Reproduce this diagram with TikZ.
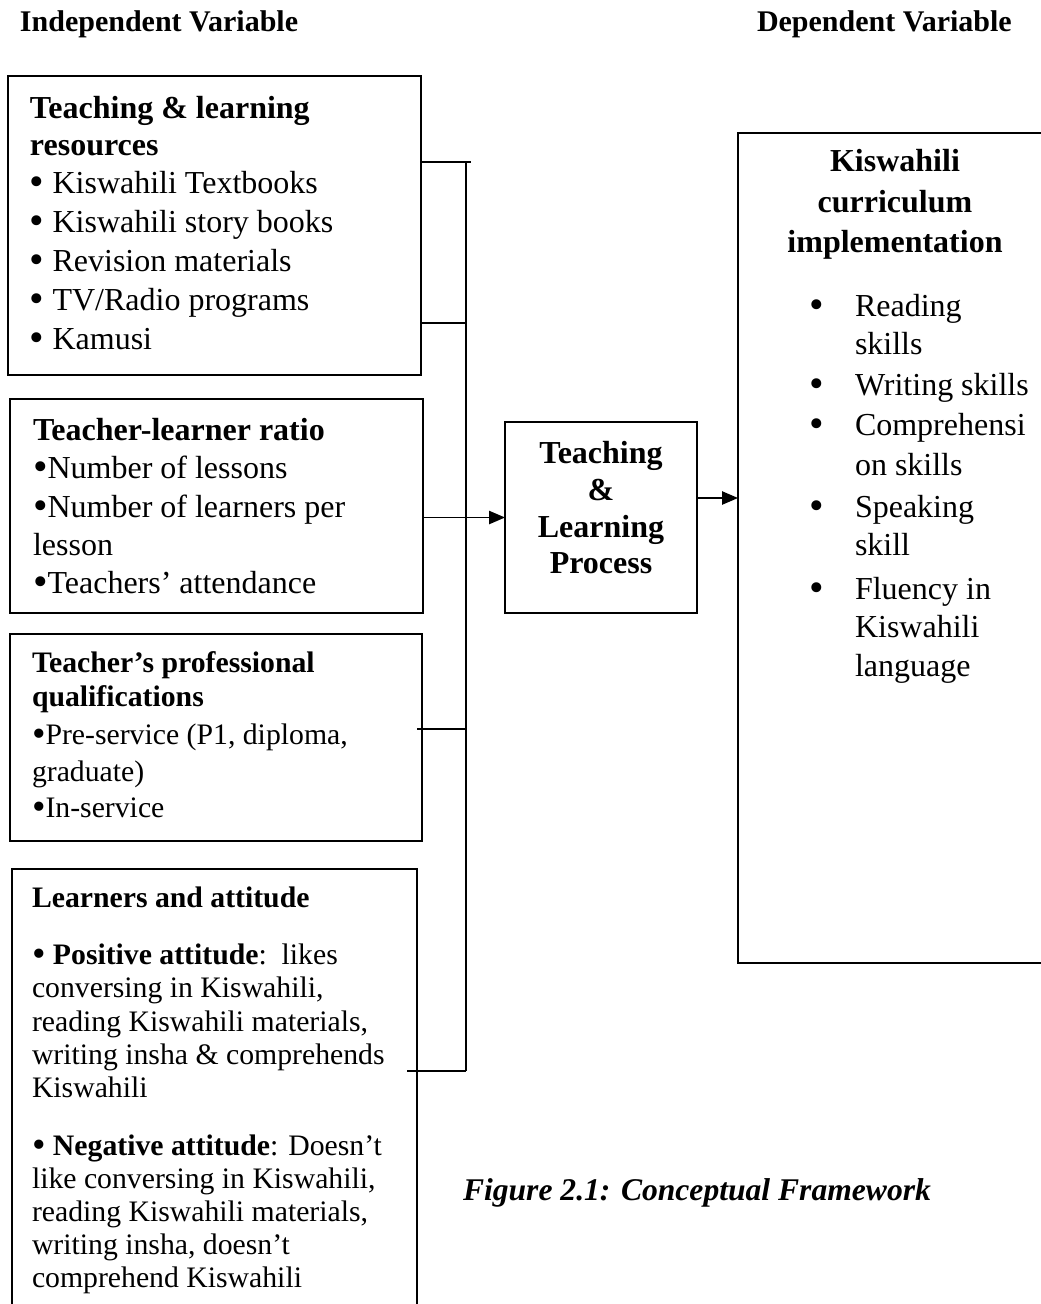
\documentclass[tikz,border=0pt]{standalone}
\usepackage{fontspec}
\setmainfont{Liberation Serif}
\usetikzlibrary{arrows.meta}
\newcommand\fA{\fontsize{24}{28}\selectfont}
\newcommand\fB{\fontsize{22.3}{26}\selectfont}
\newcommand\fH{\fontsize{22.5}{26}\selectfont\bfseries}
\newcommand\bul{\raisebox{-0.07em}{\scalebox{1.3}{•}}}
\begin{document}
\begin{tikzpicture}[x=0.75pt,y=-0.75pt,
  box/.style={draw, line width=1.7pt, rectangle, anchor=north west, inner sep=0pt, outer sep=0pt},
  tl/.style={anchor=base west, inner sep=0pt, outer sep=0pt},
  tc/.style={anchor=base, inner sep=0pt, outer sep=0pt},
  conn/.style={line width=1.1pt},
  arr/.style={line width=1.1pt, -{Triangle[length=12pt,width=10pt]}}]
\useasboundingbox (0,0) rectangle (1041,1304);
\clip (0,0) rectangle (1041,1304);
% headers
\node[tl,font=\fH] (hind) at (20,31) {Independent Variable};
\node[tl,font=\fH] (hdep) at (757,31) {Dependent Variable};
% boxes
\node[box, minimum width=309.75pt, minimum height=224.25pt] (b1) at (8,76) {};
\node[box, minimum width=309.75pt, minimum height=160.5pt] (b2) at (10,399) {};
\node[box, minimum width=309pt, minimum height=155.25pt] (b3) at (10,634) {};
\node[box, minimum width=303.75pt, minimum height=345.75pt] (b4) at (12,869) {};
\node[box, minimum width=144pt, minimum height=143.25pt] (tlp) at (505,422) {};
\node[box, minimum width=241.5pt, minimum height=622.5pt] (kb) at (738,133) {};
% box 1 text
\node[tl,font=\fA\bfseries] (b1h1) at (30,118) {Teaching \& learning};
\node[tl,font=\fA\bfseries] (b1h2) at (30,155) {resources};
\node[tl,font=\fA] (b1l1) at (30,193) {\bul{} Kiswahili Textbooks};
\node[tl,font=\fA] (b1l2) at (30,232) {\bul{} Kiswahili story books};
\node[tl,font=\fA] (b1l3) at (30,271) {\bul{} Revision materials};
\node[tl,font=\fA] (b1l4) at (30,310) {\bul{} TV/Radio programs};
\node[tl,font=\fA] (b1l5) at (30,349) {\bul{} Kamusi};
% box 2 text
\node[tl,font=\fA\bfseries] (b2h1) at (33,440) {Teacher-learner ratio};
\node[tl,font=\fA] (b2l1) at (33,478) {\bul{}Number of lessons};
\node[tl,font=\fA] (b2l2) at (33,517) {\bul{}Number of learners per};
\node[tl,font=\fA] (b2l3) at (33,555) {lesson};
\node[tl,font=\fA] (b2l4) at (33,593) {\bul{}Teachers’ attendance};
% box 3 text
\node[tl,font=\fB\bfseries] (b3h1) at (32,672) {Teacher’s professional};
\node[tl,font=\fB\bfseries] (b3h2) at (32,706) {qualifications};
\node[tl,font=\fB] (b3l1) at (32,744) {\bul{}Pre-service (P1, diploma,};
\node[tl,font=\fB] (b3l2) at (32,781) {graduate)};
\node[tl,font=\fB] (b3l3) at (32,817) {\bul{}In-service};
% box 4 text
\node[tl,font=\fB\bfseries] (b4h) at (32,907) {Learners and attitude};
\node[tl,font=\fB] (b4a1) at (32,964) {\bul{} \textbf{Positive attitude}:\ \ likes};
\node[tl,font=\fB] (b4a2) at (32,997) {conversing in Kiswahili,};
\node[tl,font=\fB] (b4a3) at (32,1031) {reading Kiswahili materials,};
\node[tl,font=\fB] (b4a4) at (32,1064) {writing insha \& comprehends};
\node[tl,font=\fB] (b4a5) at (32,1097) {Kiswahili};
\node[tl,font=\fB] (b4b1) at (32,1155) {\bul{} \textbf{Negative attitude}: Doesn’t};
\node[tl,font=\fB] (b4b2) at (32,1188) {like conversing in Kiswahili,};
\node[tl,font=\fB] (b4b3) at (32,1221) {reading Kiswahili materials,};
\node[tl,font=\fB] (b4b4) at (32,1254) {writing insha, doesn’t};
\node[tl,font=\fB] (b4b5) at (32,1287) {comprehend Kiswahili};
% TLP text
\node[tc,font=\fA\bfseries] (p1) at (601,463) {Teaching};
\node[tc,font=\fA\bfseries] (p2) at (601,500) {\&};
\node[tc,font=\fA\bfseries] (p3) at (601,537) {Learning};
\node[tc,font=\fA\bfseries] (p4) at (601,573) {Process};
% right box text
\node[tc,font=\fA\bfseries] (k1) at (895,171) {Kiswahili};
\node[tc,font=\fA\bfseries] (k2) at (895,212) {curriculum};
\node[tc,font=\fA\bfseries] (k3) at (895,252) {implementation};
\node[tc,font=\fA] (kb1) at (817,316) {\bul};
\node[tl,font=\fA] (kt1) at (855,316) {Reading};
\node[tl,font=\fA] (kt1b) at (855,354) {skills};
\node[tc,font=\fA] (kb2) at (817,395) {\bul};
\node[tl,font=\fA] (kt2) at (855,395) {Writing skills};
\node[tc,font=\fA] (kb3) at (817,435) {\bul};
\node[tl,font=\fA] (kt3) at (855,435) {Comprehensi};
\node[tl,font=\fA] (kt3b) at (855,475) {on skills};
\node[tc,font=\fA] (kb4) at (817,517) {\bul};
\node[tl,font=\fA] (kt4) at (855,517) {Speaking};
\node[tl,font=\fA] (kt4b) at (855,555) {skill};
\node[tc,font=\fA] (kb5) at (817,599) {\bul};
\node[tl,font=\fA] (kt5) at (855,599) {Fluency in};
\node[tl,font=\fA] (kt5b) at (855,637) {Kiswahili};
\node[tl,font=\fA] (kt5c) at (855,676) {language};
% caption
\node[tl,font=\fontsize{23.7}{28}\selectfont\bfseries\itshape] (cap) at (463,1200) {Figure 2.1: Conceptual Framework};
% connectors
\coordinate (vtop) at (466,162);
\coordinate (tick) at (471,162);
\coordinate (j2) at (466,323);
\coordinate (s3) at (417,729);
\coordinate (s4) at (407,1071);
\coordinate (vbot) at (466,1071);
\coordinate (o1) at (697,498);
\draw[conn] (b1.east |- tick) -- (tick);
\draw[conn] (vtop) -- (vbot);
\draw[conn] (b1.east |- j2) -- (j2);
\draw[conn] (s3) -- (s3 -| vtop);
\draw[conn] (s4) -- (vbot);
\draw[arr] (b2.east |- tlp.west) -- (tlp.west);
\draw[arr] (o1) -- (o1 -| kb.west);
\end{tikzpicture}
\end{document}
